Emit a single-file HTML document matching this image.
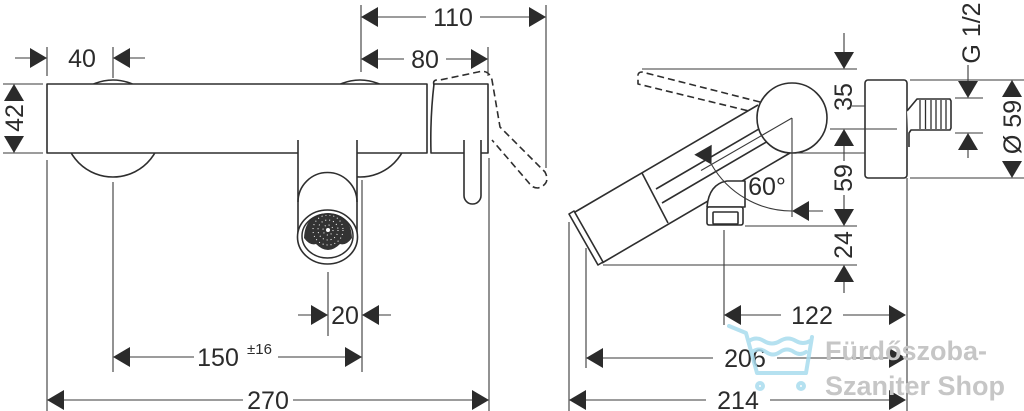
<!DOCTYPE html>
<html><head><meta charset="utf-8"><style>
html,body{margin:0;padding:0;background:#fff;}
svg{display:block;}
.t{font-family:"Liberation Sans",sans-serif;font-size:25px;fill:#2b2b2b;text-anchor:middle;}
.w{font-family:"Liberation Sans",sans-serif;font-size:27px;font-weight:bold;fill:#c6c6c6;}
</style></head><body>
<svg width="1024" height="411" viewBox="0 0 1024 411" xmlns="http://www.w3.org/2000/svg">

<!-- ============ LEFT VIEW (object) ============ -->
<g stroke="#2e2e2e" stroke-width="1.6" fill="none" stroke-linejoin="round">
  <circle cx="113" cy="128.5" r="48.5"/>
  <circle cx="360" cy="128.5" r="48.5"/>
  <rect x="47" y="84" width="380" height="69" fill="#fff"/>
  <!-- knob -->
  <path d="M434,84 L488,84 L488,153 L431,153 Q430,118 434,84 Z" fill="#fff"/>
  <!-- dashed lever -->
  <path d="M434,85 Q432,79 440,80 L478,72 Q489,69 492,80 L500,127 L545,172 Q551,184 538,188 Q532,188 529,183 L492,140" stroke-dasharray="7 4"/>
  <!-- lever -->
  <path d="M464,140 V195.5 A8.5,8.5 0 0 0 481,195.5 V140" fill="#fff"/>
  <!-- spout -->
  <rect x="298" y="140" width="59" height="97" fill="#fff" stroke="none"/>
  <path d="M298,140 V237 M357,140 V237"/>
  <path d="M298,202 A29.5,29.5 0 0 1 357,202"/>
  <ellipse cx="327.5" cy="237" rx="30" ry="27" fill="#fff"/>
</g>
<!-- aerator mesh -->
<path d="M304,238 Q305,214 328,213 Q351,214 352,238 Q346,246 340,244 Q334,250 328,250 Q322,250 316,244 Q310,246 304,238Z" fill="#333"/>
<g stroke="#fff" stroke-width="1" fill="none" stroke-dasharray="1 3">
  <circle cx="328" cy="230" r="5"/><circle cx="328" cy="230" r="10"/><circle cx="328" cy="230" r="15"/>
</g>
<circle cx="328" cy="230" r="2" fill="#fff"/>
<ellipse cx="327.5" cy="236" rx="25.5" ry="22" fill="none" stroke="#2e2e2e" stroke-width="1.5"/>

<!-- ============ RIGHT VIEW (object) ============ -->
<g stroke="#2e2e2e" stroke-width="1.6" fill="none" stroke-linejoin="round">
  <!-- dashed lever -->
  <path d="M760,102 L642,72 Q637,72 638,78 L638,84 L753,112" stroke-dasharray="7 4"/>
  <!-- spout -->
  <polygon points="575,212 758,105 790,153 602,263" fill="#fff" stroke="none"/>
  <path d="M575,212 L758,105 M602,263 L790,153"/>
  <polygon points="569,214 574,211 603,262 598,265" fill="#fff"/>
  <path d="M642,173 L668,223"/>
  <path d="M656,189 L758.8,129.1 M662,203 L766.5,141.9"/>
  <circle cx="792" cy="118" r="35"/>
  <!-- aerator side -->
  <path d="M707,207 Q709,184 727,181 L745,181 L745,207 Z" fill="#fff"/>
  <rect x="707" y="207" width="36" height="18" rx="2" fill="#fff"/>
  <rect x="713" y="212" width="25" height="12" rx="1"/>
  <!-- wall plate -->
  <rect x="865" y="80" width="42" height="98" rx="3" fill="#fff"/>
  <path d="M907,111 L917,99 L950,99 L951,101 L951,128 L950,130 L917,130 L911,130 L909,133 L909,147" fill="#fff"/>
  <path d="M920,100 V129 M925.5,100 V129 M931,100 V129 M936,100 V129 M941,100 V129 M946,100 V129" stroke-width="1.3"/>
</g>

<!-- ============ DIMENSION LINES ============ -->
<g stroke="#3a3a3a" stroke-width="1.1" fill="none">
  <!-- left -->
  <path d="M15,58 H30 M130,58 H145"/>
  <path d="M47,47 V76 M113,47 V78"/>
  <path d="M3,84 H43 M3,153 H43"/>
  <path d="M47,160 V411 M113,182 V372 M328,272 V336 M362,180 V372 M489,158 V411 M488,47 V76 M361,5 V72 M546,5 V168"/>
  <path d="M298,315 H311 M379,315 H391"/>
  <path d="M130,357 H194 M278,357 H346"/>
  <path d="M64,400 H243 M293,400 H473"/>
  <path d="M378,17 H426 M480,17 H529"/>
  <path d="M378,59 H404 M446,59 H471"/>
  <!-- right -->
  <path d="M642,69 H857 M830,129 H897 M790,153 H865 M745,226 H857 M603,265 H857 M852,106 H865"/>
  <path d="M844,33 V52 M844,146 V161 M844,195 V209 M844,282 V293"/>
  <path d="M569,222 V411 M586,248 V368 M724,230 V325 M907,178 V411"/>
  <path d="M792,118 L701,170.5 M792,118 V217 M809,211 H823"/>
  <path d="M711.5,164.5 A93,93 0 0 0 792,211"/>
  <path d="M955,98 H983 M955,133 H983 M968,65 V81 M968,150 V158"/>
  <path d="M910,80 H1024 M910,178 H1024"/>
  <path d="M741,315 H781 M843,315 H889"/>
  <path d="M603,358 H713 M777,358 H889"/>
  <path d="M586,400 H706 M770,400 H889"/>
</g>

<!-- ============ ARROWHEADS ============ -->
<g fill="#2b2b2b">
  <polygon points="47,58 30,48 30,68"/><polygon points="113,58 130,48 130,68"/>
  <polygon points="14,84 4,101 24,101"/><polygon points="14,153 4,136 24,136"/>
  <polygon points="361,17 378,7 378,27"/><polygon points="546,17 529,7 529,27"/>
  <polygon points="361,59 378,49 378,69"/><polygon points="488,59 471,49 471,69"/>
  <polygon points="328,315 311,305 311,325"/><polygon points="362,315 379,305 379,325"/>
  <polygon points="113,357 130,347 130,367"/><polygon points="362,357 345,347 345,367"/>
  <polygon points="47,400 64,390 64,410"/><polygon points="489,400 472,390 472,410"/>

  <polygon points="844,69 834,52 854,52"/><polygon points="844,129 834,146 854,146"/>
  <polygon points="844,226 834,209 854,209"/><polygon points="844,265 834,282 854,282"/>
  <polygon points="792,211 809,201 809,221"/>
  <polygon points="711.5,164.5 711.7,144.8 694.3,154.8"/>
  <polygon points="968,98 958,81 978,81"/><polygon points="968,133 958,150 978,150"/>
  <polygon points="1012,80 1002,97 1022,97"/><polygon points="1012,178 1002,161 1022,161"/>
  <polygon points="724,315 741,305 741,325"/><polygon points="906,315 889,305 889,325"/>
  <polygon points="586,358 603,348 603,368"/><polygon points="906,358 889,348 889,368"/>
  <polygon points="569,400 586,390 586,410"/><polygon points="906,400 889,390 889,410"/>
</g>

<!-- ============ LABELS ============ -->
<text class="t" x="82" y="67">40</text>
<text class="t" transform="translate(14,118) rotate(-90)" x="0" y="9">42</text>
<text class="t" x="453" y="26">110</text>
<text class="t" x="425" y="68">80</text>
<text class="t" x="345" y="324">20</text>
<text class="t" x="218" y="366">150</text>
<text class="t" x="247" y="354" style="font-size:15px;text-anchor:start">±16</text>
<text class="t" x="268" y="409">270</text>

<text class="t" transform="translate(843,97) rotate(-90)" x="0" y="9">35</text>
<text class="t" transform="translate(843,178) rotate(-90)" x="0" y="9">59</text>
<text class="t" transform="translate(843,245) rotate(-90)" x="0" y="9">24</text>
<text class="t" x="767" y="195">60°</text>
<text class="t" transform="translate(971,33) rotate(-90)" x="0" y="9">G 1/2</text>
<text class="t" transform="translate(1012,127) rotate(-90)" x="0" y="9">Ø 59</text>
<text class="t" x="812" y="324">122</text>
<text class="t" x="745" y="367">206</text>
<text class="t" x="738" y="409">214</text>

<!-- ============ WATERMARK ============ -->
<g stroke="#a9dcee" stroke-width="4" fill="none" stroke-linecap="round" stroke-linejoin="round" opacity="0.85">
  <path d="M729,326 L746,333 L757,373 L806,373 L812,337"/>
  <path d="M749,341 Q756,336 764,341 Q772,346 780,341 Q788,336 796,341 Q803,345 810,341"/>
  <path d="M752,352 Q759,347 766,352 Q773,357 780,352 Q787,347 794,352 Q800,356 806,352"/>
  <circle cx="760" cy="386" r="3"/><circle cx="801" cy="386" r="3"/>
</g>
<text class="w" x="825" y="360">Fürdőszoba-</text>
<text class="w" x="825" y="395">Szaniter Shop</text>
</svg>
</body></html>
